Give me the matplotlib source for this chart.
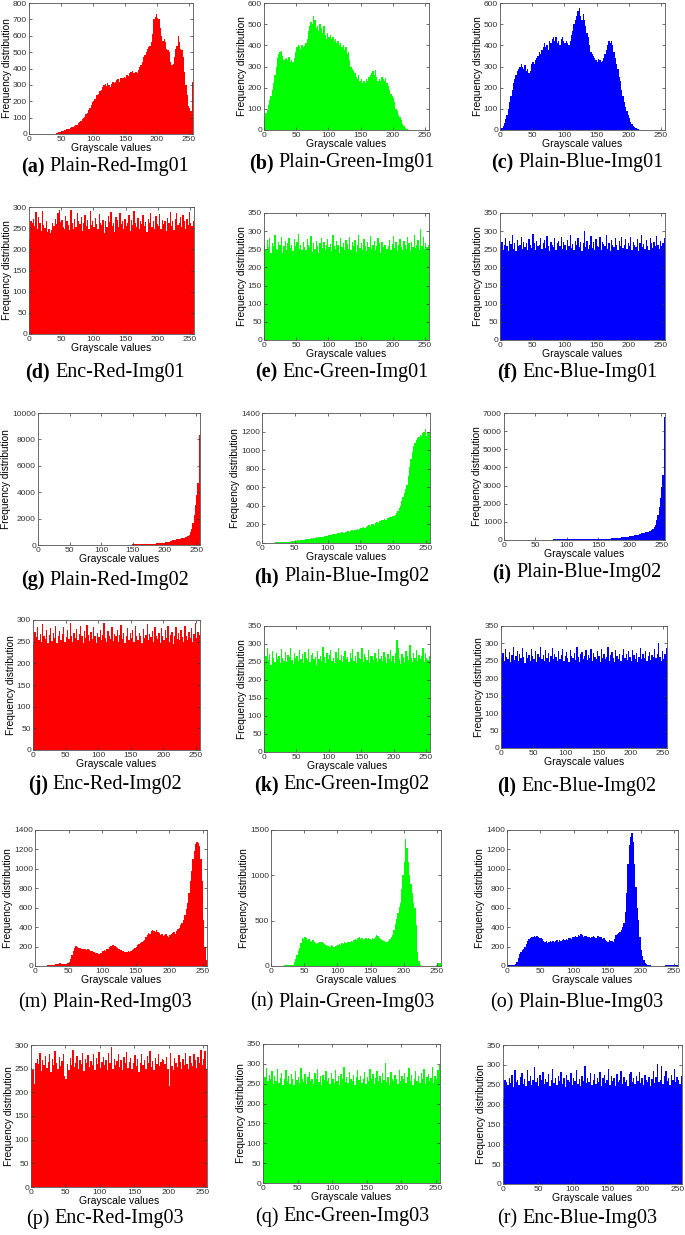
import numpy as np
import matplotlib.pyplot as plt

plt.rcParams['font.family'] = ['Liberation Sans', 'DejaVu Sans']

# each bar covers two grey levels
bins = np.arange(0, 256, 2)

plain_red_01 = [0, 0, 0, 0, 0, 0, 0, 0, 0, 0, 0, 0, 0, 0, 0, 0, 0, 0, 0, 1, 2, 5, 8, 12, 15, 18, 20, 22, 25, 28, 30, 32,
                38, 40, 45, 50, 55, 58, 65, 75, 80, 90, 100, 105, 120, 130, 145, 160, 180, 195, 200, 215, 240, 240, 245, 260, 270, 285, 300, 305, 295, 310, 300, 290,
                305, 320, 310, 320, 330, 335, 320, 340, 345, 340, 350, 345, 360, 355, 370, 380, 385, 370, 375, 380, 370, 390, 410, 420, 440, 470, 480, 500, 520, 530, 540, 560,
                610, 700, 715, 730, 710, 700, 650, 600, 570, 580, 560, 520, 510, 500, 440, 420, 430, 470, 520, 540, 600, 560, 520, 510, 470, 380, 300, 240, 170, 160, 140, 320]
plain_green_01 = [60, 80, 95, 120, 140, 160, 190, 220, 260, 300, 340, 360, 370, 375, 350, 330, 335, 340, 330, 345, 320, 330, 320, 340, 370, 390, 400, 395, 385, 400, 390, 395,
                  410, 430, 470, 490, 510, 500, 540, 520, 480, 490, 470, 500, 480, 460, 490, 450, 430, 460, 440, 450, 430, 440, 420, 430, 410, 420, 400, 410, 390, 400, 380, 390,
                  360, 370, 330, 300, 290, 280, 270, 250, 240, 260, 230, 240, 220, 230, 220, 240, 230, 250, 260, 270, 280, 260, 285, 250, 230, 240, 230, 250, 240, 230, 245, 220,
                  210, 190, 170, 160, 150, 130, 100, 90, 70, 60, 45, 30, 20, 10, 5, 3, 1, 0, 0, 0, 0, 0, 0, 0, 0, 0, 0, 0, 0, 0, 0, 0]
plain_blue_01 = [5, 10, 20, 35, 50, 70, 100, 130, 160, 190, 220, 240, 260, 280, 290, 300, 310, 300, 290, 305, 280, 290, 270, 280, 310, 320, 310, 330, 340, 350, 370, 360,
                 380, 390, 410, 390, 400, 380, 420, 410, 430, 440, 420, 440, 410, 420, 400, 430, 440, 420, 410, 420, 410, 400, 420, 450, 470, 500, 520, 540, 560, 575, 540, 520,
                 550, 520, 490, 460, 440, 400, 370, 360, 350, 340, 330, 320, 335, 330, 320, 325, 340, 360, 380, 400, 420, 410, 420, 400, 370, 340, 310, 290, 250, 230, 190, 160,
                 130, 110, 90, 70, 55, 40, 28, 20, 15, 10, 6, 4, 2, 1, 0, 0, 0, 0, 0, 0, 0, 0, 0, 0, 0, 0, 0, 0, 0, 0, 0, 0]
enc_red_01 = [225, 268, 262, 271, 255, 288, 249, 276, 262, 244, 290, 258, 251, 266, 240, 247, 238, 245, 262, 255, 271, 259, 286, 293, 264, 270, 252, 248, 279, 266, 258, 245,
              294, 262, 249, 271, 253, 285, 267, 259, 276, 243, 262, 280, 255, 269, 248, 291, 258, 266, 252, 273, 260, 249, 284, 262, 257, 270, 238, 266, 252, 279, 264, 289,
              255, 262, 241, 276, 269, 252, 287, 259, 266, 248, 271, 255, 262, 280, 244, 269, 257, 291, 263, 252, 275, 248, 268, 259, 282, 256, 264, 240, 271, 262, 287, 253,
              266, 249, 278, 261, 255, 284, 248, 270, 259, 266, 243, 275, 262, 289, 254, 268, 246, 271, 285, 258, 263, 276, 252, 281, 267, 249, 272, 258, 289, 263, 254, 268]
enc_green_01 = [262, 248, 275, 255, 281, 240, 266, 258, 290, 251, 247, 270, 263, 285, 239, 258, 272, 249, 266, 280, 254, 261, 244, 277, 258, 269, 292, 250, 263, 247, 271, 256,
                248, 279, 262, 255, 286, 243, 268, 251, 274, 260, 239, 266, 282, 253, 270, 248, 261, 277, 256, 264, 245, 289, 258, 250, 272, 263, 240, 281, 255, 268, 249, 276,
                264, 252, 283, 247, 269, 258, 275, 243, 262, 290, 254, 267, 249, 278, 260, 245, 271, 256, 286, 251, 263, 274, 248, 259, 282, 266, 240, 270, 257, 263, 263, 252,
                258, 276, 249, 265, 287, 253, 270, 244, 261, 279, 256, 248, 273, 262, 251, 284, 266, 245, 269, 257, 290, 254, 263, 276, 248, 305, 259, 283, 250, 266, 257, 262]
enc_blue_01 = [255, 270, 248, 262, 281, 259, 246, 273, 265, 289, 252, 268, 244, 276, 258, 263, 285, 250, 271, 257, 266, 248, 279, 261, 254, 292, 267, 249, 274, 258, 262, 281,
               250, 268, 276, 253, 287, 260, 245, 271, 263, 255, 280, 249, 266, 272, 258, 284, 251, 269, 262, 247, 276, 259, 290, 254, 265, 248, 273, 261, 282, 256, 270, 244,
               268, 301, 257, 274, 250, 263, 286, 253, 269, 247, 278, 260, 255, 283, 249, 271, 264, 258, 290, 252, 267, 246, 275, 261, 256, 280, 263, 249, 272, 258, 285, 254,
               262, 277, 250, 268, 259, 284, 248, 271, 263, 255, 279, 246, 267, 290, 257, 264, 251, 276, 260, 249, 282, 266, 254, 270, 258, 287, 263, 250, 274, 259, 268, 281]
plain_red_02 = [3, 3, 3, 4, 4, 4, 5, 5, 5, 5, 6, 6, 6, 6, 7, 7, 7, 7, 8, 8, 8, 8, 9, 9, 9, 10, 10, 10, 10, 11, 11, 11,
                12, 12, 12, 13, 13, 13, 14, 14, 14, 15, 15, 15, 16, 16, 17, 17, 18, 18, 18, 19, 19, 20, 20, 21, 21, 22, 22, 23, 23, 24, 24, 25,
                26, 27, 28, 29, 30, 31, 32, 33, 34, 36, 38, 40, 42, 44, 46, 48, 50, 53, 56, 60, 64, 68, 72, 77, 82, 88, 94, 100, 107, 114, 122, 130,
                140, 150, 162, 175, 190, 210, 235, 265, 300, 330, 355, 380, 400, 420, 440, 460, 480, 500, 520, 545, 570, 610, 680, 780, 950, 1250, 1700, 2300, 3000, 3800, 4700, 8300]
plain_green_02 = [3, 3, 3, 4, 4, 4, 5, 5, 5, 5, 6, 6, 6, 7, 7, 8, 8, 9, 10, 12, 14, 16, 18, 20, 22, 20, 25, 28, 26, 30, 32, 34,
                  36, 38, 40, 44, 46, 50, 48, 54, 56, 60, 58, 64, 66, 70, 66, 74, 78, 80, 86, 82, 90, 94, 92, 100, 98, 104, 110, 106, 114, 118, 112, 120,
                  118, 125, 120, 130, 135, 128, 140, 145, 150, 142, 155, 160, 165, 175, 160, 170, 185, 190, 180, 200, 210, 195, 215, 230, 220, 240, 235, 250, 245, 260, 250, 265,
                  270, 280, 275, 290, 290, 305, 320, 340, 380, 400, 450, 500, 540, 580, 620, 720, 820, 900, 980, 1040, 1080, 1110, 1130, 1140, 1160, 1150, 1180, 1200, 1230, 1150, 1200, 1190]
plain_blue_02 = [25, 24, 24, 23, 23, 22, 22, 22, 21, 21, 21, 20, 20, 20, 20, 20, 20, 20, 21, 21, 21, 22, 22, 22, 23, 23, 23, 24, 24, 24, 25, 25,
                 25, 26, 26, 26, 27, 27, 27, 28, 28, 28, 29, 29, 29, 30, 30, 30, 31, 31, 31, 32, 32, 32, 33, 33, 33, 34, 34, 35, 35, 36, 36, 37,
                 38, 39, 40, 41, 42, 43, 44, 46, 48, 50, 52, 54, 56, 58, 60, 63, 66, 70, 74, 78, 82, 87, 92, 98, 104, 110, 116, 122, 130, 138, 146, 155,
                 165, 175, 185, 195, 205, 220, 235, 250, 265, 280, 300, 320, 340, 360, 380, 400, 420, 440, 460, 480, 500, 540, 600, 700, 850, 1100, 1400, 1800, 2300, 2900, 3600, 6800]
enc_red_02 = [245, 272, 261, 284, 255, 268, 249, 290, 263, 257, 276, 248, 266, 281, 252, 270, 259, 287, 246, 263, 274, 255, 268, 283, 250, 261, 277, 256, 292, 264, 249, 271,
              258, 280, 253, 267, 286, 262, 248, 274, 259, 289, 266, 251, 272, 257, 283, 264, 248, 270, 261, 278, 254, 266, 293, 259, 249, 275, 263, 256, 284, 251, 268, 262,
              277, 250, 265, 288, 257, 270, 246, 263, 281, 254, 269, 258, 276, 249, 287, 262, 255, 271, 264, 248, 279, 259, 266, 290, 253, 268, 260, 274, 250, 283, 262, 257,
              270, 248, 281, 263, 255, 276, 259, 287, 250, 266, 272, 245, 262, 284, 257, 269, 253, 278, 261, 249, 286, 264, 255, 272, 258, 281, 250, 267, 293, 259, 272, 266]
enc_green_02 = [248, 266, 290, 255, 272, 243, 281, 260, 251, 276, 258, 268, 247, 285, 262, 254, 279, 249, 270, 263, 288, 256, 245, 274, 260, 267, 252, 283, 259, 271, 246, 278,
                262, 255, 286, 250, 269, 274, 257, 265, 241, 280, 259, 268, 252, 291, 263, 248, 275, 257, 269, 284, 253, 262, 246, 277, 260, 289, 255, 270, 249, 266, 281, 258,
                264, 251, 275, 260, 287, 254, 268, 246, 279, 262, 257, 290, 250, 272, 263, 255, 283, 248, 267, 267, 256, 274, 261, 249, 285, 258, 266, 252, 278, 263, 247, 271,
                259, 282, 254, 267, 248, 276, 310, 288, 257, 245, 273, 264, 251, 280, 268, 255, 297, 260, 249, 275, 262, 284, 253, 270, 258, 266, 290, 250, 276, 262, 255, 268]
enc_blue_02 = [258, 272, 249, 284, 261, 255, 276, 246, 268, 290, 253, 263, 279, 250, 271, 257, 286, 262, 244, 274, 259, 268, 251, 283, 264, 256, 277, 248, 270, 262, 289, 254,
               266, 251, 280, 259, 273, 247, 265, 288, 256, 270, 262, 249, 278, 255, 267, 284, 250, 263, 275, 258, 246, 281, 264, 257, 272, 253, 290, 261, 248, 269, 276, 255,
               263, 280, 252, 267, 257, 285, 249, 272, 261, 254, 277, 265, 248, 283, 259, 270, 256, 262, 289, 251, 268, 274, 259, 246, 280, 263, 255, 271, 250, 266, 284, 258,
               270, 253, 277, 261, 249, 282, 266, 256, 273, 247, 262, 288, 255, 269, 258, 279, 250, 264, 276, 253, 268, 260, 285, 257, 270, 301, 262, 251, 279, 256, 270, 288]
plain_red_03 = [2, 2, 2, 3, 3, 3, 4, 4, 5, 6, 8, 10, 12, 14, 15, 16, 20, 24, 26, 25, 24, 22, 20, 24, 30, 40, 70, 110, 150, 190, 205, 195,
                185, 190, 180, 175, 170, 178, 165, 170, 160, 150, 155, 140, 145, 130, 135, 128, 132, 135, 150, 160, 158, 170, 180, 195, 205, 215, 220, 210, 200, 185, 170, 165,
                160, 150, 148, 145, 140, 150, 145, 155, 160, 175, 190, 200, 215, 230, 240, 250, 260, 270, 300, 320, 340, 330, 360, 370, 365, 355, 370, 350, 340, 320, 330, 310,
                320, 330, 310, 300, 320, 330, 340, 350, 330, 360, 380, 390, 420, 440, 470, 520, 590, 650, 750, 880, 980, 1100, 1180, 1260, 1280, 1270, 1240, 1100, 880, 470, 200, 60]
plain_green_03 = [3, 3, 3, 4, 4, 4, 5, 5, 5, 5, 6, 6, 6, 7, 7, 8, 15, 40, 80, 120, 160, 200, 250, 310, 300, 320, 310, 290, 300, 280, 270, 290,
                  260, 250, 240, 250, 270, 260, 265, 250, 240, 230, 220, 225, 210, 230, 220, 215, 225, 220, 230, 240, 235, 250, 245, 260, 255, 270, 265, 260, 280, 270, 285, 300,
                  290, 310, 320, 300, 310, 290, 300, 310, 295, 305, 300, 290, 310, 300, 320, 340, 330, 310, 300, 290, 280, 275, 270, 265, 280, 300, 320, 340, 400, 460, 520, 580,
                  650, 700, 850, 1000, 1150, 1400, 1300, 1150, 1000, 900, 800, 700, 640, 450, 150, 50, 15, 5, 5, 5, 5, 5, 5, 5, 5, 5, 5, 5, 15, 30, 35, 30]
plain_blue_03 = [10, 10, 10, 10, 10, 12, 20, 40, 80, 120, 140, 160, 180, 200, 230, 260, 280, 290, 300, 295, 305, 300, 310, 300, 290, 285, 280, 260, 250, 255, 240, 250,
                 260, 250, 255, 245, 260, 270, 250, 265, 260, 270, 280, 265, 275, 270, 285, 290, 280, 300, 295, 310, 300, 320, 310, 330, 315, 300, 310, 305, 295, 300, 290, 300,
                 310, 300, 290, 305, 310, 295, 300, 280, 290, 270, 260, 250, 270, 255, 260, 250, 280, 320, 330, 340, 350, 370, 400, 440, 560, 750, 1050, 1250, 1330, 1370, 1280, 1050,
                 815, 600, 470, 300, 160, 100, 60, 35, 20, 12, 8, 6, 5, 5, 5, 5, 5, 5, 5, 5, 5, 5, 8, 10, 10, 12, 10, 12, 15, 12, 10, 12]
enc_red_03 = [252, 248, 218, 262, 271, 259, 283, 245, 268, 257, 276, 251, 265, 280, 243, 270, 258, 287, 262, 249, 274, 255, 266, 281, 235, 229, 260, 248, 272, 258, 290, 254,
              263, 277, 250, 268, 259, 284, 246, 270, 262, 279, 253, 266, 257, 281, 248, 272, 260, 286, 251, 264, 275, 257, 269, 248, 283, 262, 295, 250, 271, 258, 266, 280,
              254, 269, 247, 275, 261, 286, 252, 265, 273, 249, 262, 278, 256, 270, 244, 263, 282, 257, 268, 250, 276, 261, 287, 254, 266, 248, 273, 259, 281, 256, 264, 270,
              268, 259, 275, 250, 213, 283, 256, 247, 272, 262, 254, 279, 265, 250, 271, 258, 284, 260, 249, 276, 263, 255, 281, 268, 252, 274, 262, 289, 258, 271, 287, 250]
enc_green_03 = [244, 268, 290, 256, 273, 262, 281, 249, 270, 258, 286, 253, 265, 277, 248, 261, 284, 257, 270, 250, 275, 263, 246, 281, 259, 268, 252, 289, 262, 255, 274, 249,
                266, 280, 257, 263, 250, 276, 261, 288, 254, 269, 247, 272, 260, 283, 256, 265, 249, 278, 262, 253, 285, 258, 270, 246, 274, 263, 291, 255, 268, 251, 279, 261,
                257, 272, 248, 266, 284, 259, 270, 253, 263, 279, 250, 268, 256, 287, 261, 274, 249, 265, 282, 257, 270, 252, 276, 260, 303, 255, 267, 248, 280, 262, 258, 271,
                263, 249, 285, 257, 270, 261, 278, 252, 266, 290, 256, 272, 247, 263, 281, 258, 269, 253, 276, 262, 287, 250, 268, 274, 257, 265, 293, 251, 270, 262, 284, 297]
enc_blue_03 = [215, 262, 258, 249, 266, 254, 275, 243, 288, 257, 262, 249, 270, 280, 253, 265, 248, 287, 259, 272, 250, 263, 294, 256, 268, 246, 274, 261, 281, 252, 265, 257,
               277, 248, 263, 290, 255, 268, 249, 271, 260, 283, 252, 266, 245, 274, 262, 256, 279, 250, 268, 259, 287, 253, 264, 247, 272, 260, 296, 254, 267, 258, 280, 249,
               263, 276, 251, 268, 258, 283, 247, 266, 274, 255, 262, 290, 250, 271, 259, 266, 248, 278, 257, 263, 284, 252, 270, 256, 262, 247, 276, 283, 258, 266, 251, 272,
               260, 281, 254, 268, 249, 275, 262, 257, 270, 246, 264, 285, 255, 269, 302, 258, 263, 298, 252, 272, 285, 259, 266, 250, 274, 261, 289, 256, 270, 263, 252, 271]

letters = ['(a)', '(b)', '(c)', '(d)', '(e)', '(f)', '(g)', '(h)', '(i)',
           '(j)', '(k)', '(l)', '(m)', '(n)', '(o)', '(p)', '(q)', '(r)']
names = ['Plain-Red-Img01', 'Plain-Green-Img01', 'Plain-Blue-Img01',
         'Enc-Red-Img01', 'Enc-Green-Img01', 'Enc-Blue-Img01',
         'Plain-Red-Img02', 'Plain-Blue-Img02', 'Plain-Blue-Img02',
         'Enc-Red-Img02', 'Enc-Green-Img02', 'Enc-Blue-Img02',
         'Plain-Red-Img03', 'Plain-Green-Img03', 'Plain-Blue-Img03',
         'Enc-Red-Img03', 'Enc-Green-Img03', 'Enc-Blue-Img03']
series = [plain_red_01, plain_green_01, plain_blue_01,
          enc_red_01, enc_green_01, enc_blue_01,
          plain_red_02, plain_green_02, plain_blue_02,
          enc_red_02, enc_green_02, enc_blue_02,
          plain_red_03, plain_green_03, plain_blue_03,
          enc_red_03, enc_green_03, enc_blue_03]
y_max = [800, 600, 600, 300, 350, 350, 10000, 1400, 7000,
         300, 350, 350, 1400, 1500, 1400, 300, 350, 350]
y_step = [100, 100, 100, 50, 50, 50, 2000, 200, 1000,
          50, 50, 50, 200, 500, 200, 50, 50, 50]
colors = ['#ff0000', '#00ff00', '#0000ff'] * 6

# axes boxes in pixels: left, top, right, bottom
boxes = [(29, 3, 193, 134), (264, 3, 429, 130), (500, 3, 665, 130),
         (29, 207, 194, 334), (264, 213, 429, 340), (500, 213, 665, 340),
         (38, 413, 200, 545), (262, 413, 430, 543), (504, 413, 665, 540),
         (33, 620, 200, 750), (264, 626, 430, 752), (501, 626, 667, 748),
         (35, 830, 207, 966), (271, 830, 441, 966), (507, 830, 678, 966),
         (31, 1045, 207, 1187), (263, 1044, 440, 1183), (503, 1045, 682, 1184)]
cap_x = [105, 342, 577] * 6
cap_y = [167, 163, 163, 372, 372, 372, 580, 577, 573,
         785, 785, 786, 1003, 1002, 1003, 1219, 1217, 1219]

W, H = 685, 1235
fig = plt.figure(figsize=(W / 100, H / 100), dpi=100)

for k in range(18):
    l, t, r, b = boxes[k]
    ax = fig.add_axes([l / W, 1 - b / H, (r - l) / W, (b - t) / H])
    ax.bar(bins, series[k], width=2, align='edge', color=colors[k], linewidth=0)
    ax.set_xlim(0, 256)
    ax.set_ylim(0, y_max[k])
    ax.set_xticks(range(0, 251, 50))
    ax.set_yticks(np.arange(0, y_max[k] + 1, y_step[k]))
    ax.tick_params(direction='in', length=2, width=0.5, top=True, right=True,
                   labelsize=6, pad=1.5, colors='#333333')
    for s in ax.spines.values():
        s.set_linewidth(0.6)
        s.set_color('#555555')
    ax.set_xlabel('Grayscale values', fontsize=7.5, labelpad=0)
    ax.set_ylabel('Frequency distribution', fontsize=7.3, labelpad=0.5)

# captions under each panel, bold letter for the first four rows
serif = ['Liberation Serif', 'DejaVu Serif']
caps = []
for k in range(18):
    bold = k < 12
    t1 = fig.text(0, 0, letters[k], fontsize=14.5, family=serif,
                  weight='bold' if bold else 'normal', va='center', ha='left')
    t2 = fig.text(0, 0, names[k], fontsize=14.5, family=serif, va='center', ha='left')
    caps.append((t1, t2))

fig.canvas.draw()
rend = fig.canvas.get_renderer()
gap = 5
for k, (t1, t2) in enumerate(caps):
    w1 = t1.get_window_extent(rend).width
    w2 = t2.get_window_extent(rend).width
    x0 = cap_x[k] - (w1 + gap + w2) / 2
    y = 1 - cap_y[k] / H
    t1.set_position((x0 / W, y))
    t2.set_position(((x0 + w1 + gap) / W, y))

fig.savefig('out.png', dpi=100)
